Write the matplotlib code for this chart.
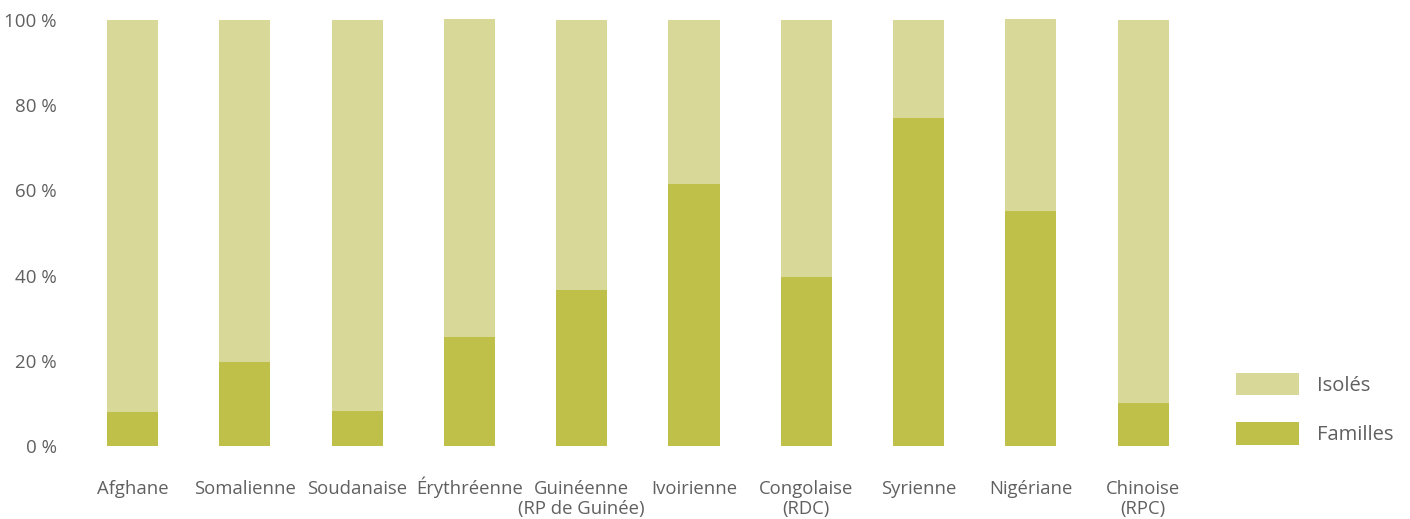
import matplotlib
matplotlib.use("Agg")
import matplotlib.pyplot as plt
import numpy as np

categories = ["Afghane", "Somalienne", "Soudanaise", "Érythréenne", "Guinéenne\n(RP de Guinée)",
              "Ivoirienne", "Congolaise\n(RDC)", "Syrienne", "Nigériane", "Chinoise\n(RPC)"]
familles = [8.0, 19.7, 8.2, 25.6, 36.6, 61.5, 39.7, 77.0, 55.2, 10.1]
isoles = [92.0, 80.3, 91.8, 74.6, 63.4, 38.5, 60.3, 23.0, 45.0, 89.9]
yticks = [0, 20, 40, 60, 80, 100]
ytick_labels = ["0 %", "20 %", "40 %", "60 %", "80 %", "100 %"]

c_fam = "#bfc049"
c_iso = "#d8d999"
txt = "#606060"

plt.rcParams['font.family'] = ['Open Sans', 'DejaVu Sans']

W, H = 1410, 519
fig = plt.figure(figsize=(W / 100, H / 100), dpi=100)
ymax = 102
left_px, right_px = 76.4, 1199.3
bottom_px = 446
top_px = bottom_px - 4.26 * ymax
ax = fig.add_axes([left_px / W, (H - bottom_px) / H, (right_px - left_px) / W, (bottom_px - top_px) / H])

x = np.arange(len(categories))
width = 0.455
ax.bar(x, familles, width, color=c_fam, label="Familles")
ax.bar(x, isoles, width, bottom=familles, color=c_iso, label="Isolés")

ax.set_xlim(-0.5, len(categories) - 0.5)
ax.set_ylim(0, ymax)
ax.set_yticks(yticks)
ax.set_yticklabels(ytick_labels)
ax.tick_params(axis='y', length=0, pad=14, labelsize=13.5, labelcolor=txt)
ax.set_xticks(x)
ax.set_xticklabels([""] * len(categories))
ax.tick_params(axis='x', length=0)

# category labels: each line placed on a common baseline
for xi, cat in zip(x, categories):
    for i, line in enumerate(cat.split("\n")):
        ax.annotate(line, xy=(xi, 0), xytext=(0, -(48 + 20 * i)), textcoords='offset pixels',
                    ha='center', va='baseline', fontsize=13.3, color=txt, annotation_clip=False)

for s in ax.spines.values():
    s.set_visible(False)

handles, labels = ax.get_legend_handles_labels()
leg = ax.legend(handles[::-1], labels[::-1], loc='lower left', bbox_to_anchor=(1232 / W, (H - 449) / H),
                bbox_transform=fig.transFigure, frameon=False, fontsize=14.5,
                handlelength=3.15, handleheight=1.35, labelspacing=1.3, handletextpad=0.85,
                labelcolor=txt, borderaxespad=0, borderpad=0.2)

fig.savefig("out.png", dpi=100)
